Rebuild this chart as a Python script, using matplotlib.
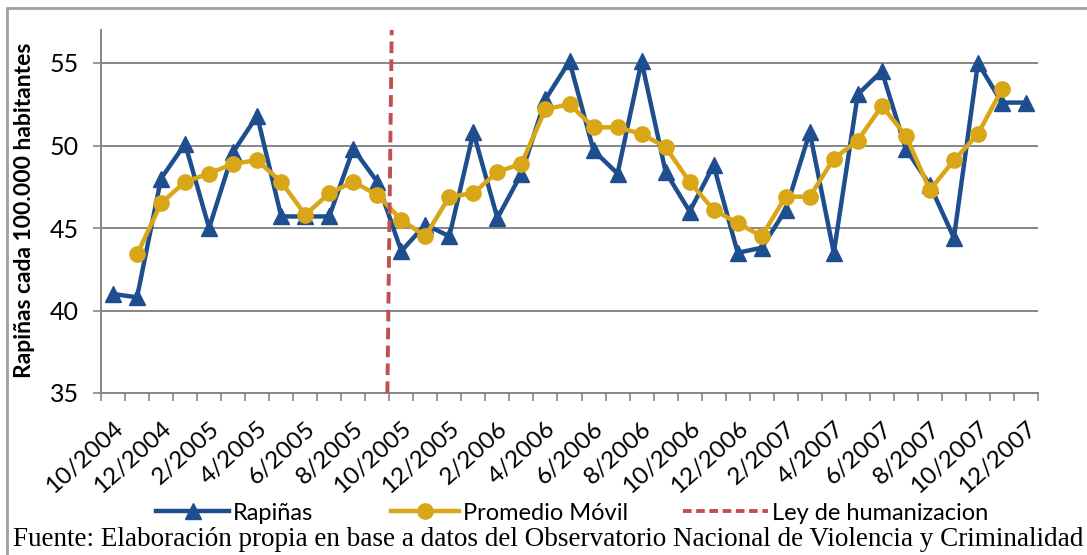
import numpy as np
import matplotlib
matplotlib.use("Agg")
import matplotlib.pyplot as plt
from matplotlib.lines import Line2D

# meses de 10/2004 a 12/2007
meses = ["10/2004", "11/2004", "12/2004",
         "1/2005", "2/2005", "3/2005", "4/2005", "5/2005", "6/2005",
         "7/2005", "8/2005", "9/2005", "10/2005", "11/2005", "12/2005",
         "1/2006", "2/2006", "3/2006", "4/2006", "5/2006", "6/2006",
         "7/2006", "8/2006", "9/2006", "10/2006", "11/2006", "12/2006",
         "1/2007", "2/2007", "3/2007", "4/2007", "5/2007", "6/2007",
         "7/2007", "8/2007", "9/2007", "10/2007", "11/2007", "12/2007"]

rapinas = [41.0, 40.8, 48.0, 50.1, 45.0, 49.6, 51.8, 45.7, 45.7, 45.7,
           49.8, 47.8, 43.6, 45.2, 44.5, 50.8, 45.6, 48.3, 52.8, 55.1,
           49.7, 48.3, 55.1, 48.4, 46.0, 48.8, 43.5, 43.8, 46.1, 50.8,
           43.5, 53.1, 54.5, 49.8, 47.6, 44.4, 55.0, 52.6, 52.6]

promedio = [None, 43.4, 46.5, 47.8, 48.3, 48.9, 49.1, 47.8, 45.8, 47.1,
            47.8, 47.0, 45.5, 44.5, 46.9, 47.1, 48.4, 48.9, 52.2, 52.5,
            51.1, 51.1, 50.7, 49.9, 47.8, 46.1, 45.3, 44.5, 46.9, 46.9,
            49.2, 50.3, 52.4, 50.6, 47.3, 49.1, 50.7, 53.4, None]

# linea de la ley de humanizacion (entre 9/2005 y 10/2005)
ley_x = [11.42, 11.6]
ley_y = [35, 57]

series = ["Rapiñas", "Promedio Móvil", "Ley de humanizacion"]

azul = "#1F4E8F"
amarillo = "#D9A617"
rojo = "#C0504D"
gris = "#868686"

fig = plt.figure(figsize=(10.87, 5.55), dpi=100)
ax = fig.add_axes([101/1087, 1-393/555, 937/1087, 363/555])

x = np.arange(len(meses))
prom = np.array([np.nan if v is None else v for v in promedio])

ax.plot(x, rapinas, color=azul, lw=3.2, marker="^", ms=12, mfc=azul, mec=azul, zorder=3)
ax.plot(x, prom, color=amarillo, lw=3.2, marker="o", ms=11, mfc=amarillo, mec=amarillo, zorder=4)
ax.plot(ley_x, ley_y, color=rojo, lw=2.8, ls=(0, (3, 1.6)), zorder=5, clip_on=False)

ax.set_xlim(-0.5, len(meses) - 0.5)
ax.set_ylim(35, 57)
ax.set_yticks([35, 40, 45, 50, 55])
ax.yaxis.grid(True, color=gris, lw=1.4)
ax.set_axisbelow(True)

ax.set_xticks(x[::2])
ax.set_xticklabels(meses[::2], rotation=42, ha="right", va="top",
                   rotation_mode="anchor", family="Lato", fontsize=17.5)
ax.set_xticks(np.arange(-0.5, len(meses), 1), minor=True)
ax.tick_params(axis="x", which="major", length=0, pad=18)
ax.tick_params(axis="x", which="minor", length=6, color=gris, width=1.2)
ax.tick_params(axis="y", length=6, color=gris, width=1.2, labelsize=18, pad=10)
for lab in ax.get_yticklabels():
    lab.set_family("Lato")

for s in ["top", "right"]:
    ax.spines[s].set_visible(False)
for s in ["left", "bottom"]:
    ax.spines[s].set_color(gris)
    ax.spines[s].set_linewidth(1.4)

ax.set_ylabel("Rapiñas cada 100.000 habitantes", family="Lato", fontweight="bold",
              fontsize=16.5)
ax.yaxis.set_label_coords(-66/937, 0.504)

# leyenda: una entrada por bloque, como en el original
handles = [Line2D([], [], color=azul, lw=3.2, marker="^", ms=11),
           Line2D([], [], color=amarillo, lw=3.2, marker="o", ms=11),
           Line2D([], [], color=rojo, lw=2.8, ls=(0, (2.2, 1.2)))]
pos_x = [156, 391, 683]
largos = [3.1, 2.9, 3.6]
for h, nombre, px, hl in zip(handles, series, pos_x, largos):
    fig.legend([h], [nombre], loc="center left", bbox_to_anchor=(px/1087, 1-513/555),
               frameon=False, prop={"family": "Lato", "size": 17}, handlelength=hl,
               handletextpad=0.15, borderpad=0, borderaxespad=0)

fig.text(13/1087, 1-540/555, "Fuente: Elaboración propia en base a datos del Observatorio Nacional de Violencia y Criminalidad",
         ha="left", va="center", family="Liberation Serif", fontsize=19.5)

# marco del grafico
fig.add_artist(plt.Rectangle((7/1087, -0.1), 1.2, 1-8/555+0.1, transform=fig.transFigure,
                             fill=False, ec="#A0A0A0", lw=2))

fig.savefig("out.png", dpi=100)
